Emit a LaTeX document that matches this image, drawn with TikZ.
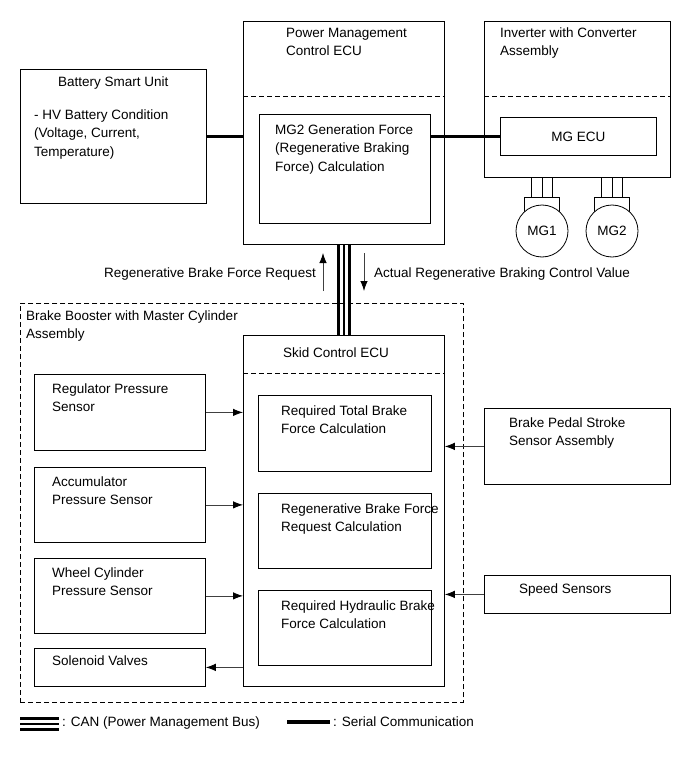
\documentclass[tikz,border=0pt]{standalone}
\usepackage{fontspec}
\setmainfont{Liberation Sans}
\usetikzlibrary{arrows.meta}
\begin{document}
\begin{tikzpicture}[x=1pt,y=-1pt,
  box/.style={draw, line width=0.8pt, inner sep=0pt, anchor=north west},
  txt/.style={anchor=base west, align=left, inner sep=0pt, font=\fontsize{13.5}{18}\selectfont},
  ctxt/.style={inner sep=0pt, font=\fontsize{13.5}{18}\selectfont},
  serial/.style={line width=3.5pt},
  arr/.style={line width=0.8pt, draw=black!75, -{Latex[length=10pt,width=7.5pt,color=black]}},
  dsh/.style={line width=0.8pt, dash pattern=on 5pt off 3pt}]
\useasboundingbox (0,0) rectangle (691,757);
% top boxes
\node[box, minimum width=186pt, minimum height=134pt] (battery) at (20,69) {};
\node[box, minimum width=201pt, minimum height=223pt] (pmc) at (243,21) {};
\node[box, minimum width=171pt, minimum height=109pt] (pmcin) at (259,114) {};
\node[box, minimum width=186pt, minimum height=156pt] (inv) at (484,21) {};
\node[box, minimum width=156pt, minimum height=38pt] (mgecu) at (500,117) {};
\draw[dsh] (243,96) -- (444,96);
\draw[dsh] (484,96) -- (670,96);
% motor connectors
\foreach \cx in {542, 612}{
  \foreach \dx in {-10.5,0,10.5}
    \draw[line width=0.8pt] (\cx+\dx,177) -- (\cx+\dx,197);
  \draw[line width=0.8pt] (\cx-17.5,212) -- (\cx-17.5,197) -- (\cx+17.5,197) -- (\cx+17.5,212);
}
\node[circle, draw, fill=white, line width=0.8pt, minimum size=52pt, inner sep=0pt, font=\fontsize{13.5}{18}\selectfont] (mg1) at (542,231) {MG1};
\node[circle, draw, fill=white, line width=0.8pt, minimum size=52pt, inner sep=0pt, font=\fontsize{13.5}{18}\selectfont] (mg2) at (612,231) {MG2};
% booster
\node[box, dsh, minimum width=443pt, minimum height=399pt] (boost) at (20,303) {};
\node[box, minimum width=201pt, minimum height=351pt] (skid) at (243,335) {};
\draw[dsh] (243,373) -- (444,373);
\node[box, minimum width=173pt, minimum height=76pt] (sk1) at (258,395) {};
\node[box, minimum width=173pt, minimum height=75pt] (sk2) at (258,493) {};
\node[box, minimum width=173pt, minimum height=75pt] (sk3) at (258,590) {};
\node[box, minimum width=171pt, minimum height=76pt] (reg) at (34,374) {};
\node[box, minimum width=171pt, minimum height=75pt] (acc) at (34,467) {};
\node[box, minimum width=171pt, minimum height=75pt] (whc) at (34,558) {};
\node[box, minimum width=171pt, minimum height=38pt] (sol) at (34,648) {};
\node[box, minimum width=186pt, minimum height=76pt] (bps) at (484,408) {};
\node[box, minimum width=186pt, minimum height=38pt] (spd) at (484,575) {};
% serial links
\draw[serial] (battery.east) -- (battery.east -| pmc.west);
\draw[serial] (mgecu.west -| pmcin.east) -- (mgecu.west);
% CAN
\draw[line width=3.5pt] ([xshift=-5.5pt]pmc.south) -- ([xshift=-5.5pt]skid.north);
\draw[line width=1.8pt] (pmc.south) -- (skid.north);
\draw[line width=3.5pt] ([xshift=5.5pt]pmc.south) -- ([xshift=5.5pt]skid.north);
% request arrows
\coordinate (upS) at (323,291);
\coordinate (upE) at (323,253);
\coordinate (dnS) at (364,253);
\coordinate (dnE) at (364,291);
\draw[arr] (upS) -- (upE);
\draw[arr] (dnS) -- (dnE);
% sensor arrows
\draw[arr] (reg.east) -- (reg.east -| skid.west);
\draw[arr] (acc.east) -- (acc.east -| skid.west);
\draw[arr] (whc.east) -- (whc.east -| skid.west);
\draw[arr] (sol.east -| skid.west) -- (sol.east);
\draw[arr] (bps.west) -- (bps.west -| skid.east);
\draw[arr] (spd.west) -- (spd.west -| skid.east);
% texts (multi-line nodes are placed by the baseline of their last line)
\node[txt] (tBat) at (58,87) {Battery Smart Unit};
\node[txt] (tBatB) at (34,156) {- HV Battery Condition\\(Voltage, Current,\\Temperature)};
\node[txt] (tPmc) at (286,56) {Power Management\\Control ECU};
\node[txt] (tMg2) at (275,171) {MG2 Generation Force\\(Regenerative Braking\\Force) Calculation};
\node[txt] (tInv) at (500,56) {Inverter with Converter\\Assembly};
\node[ctxt] (tMgecu) at (mgecu.center) {MG ECU};
\node[txt, anchor=base east] (tReq) at (316,277) {Regenerative Brake Force Request};
\node[txt] (tAct) at (374,277) {Actual Regenerative Braking Control Value};
\node[txt] (tBoost) at (26,338) {Brake Booster with Master Cylinder\\Assembly};
\node[txt] (tSkid) at (283,357) {Skid Control ECU};
\node[txt] (tSk1) at (281,433) {Required Total Brake\\Force Calculation};
\node[txt] (tSk2) at (281,531) {Regenerative Brake Force\\Request Calculation};
\node[txt] (tSk3) at (281,628) {Required Hydraulic Brake\\Force Calculation};
\node[txt] (tReg) at (52,411) {Regulator Pressure\\Sensor};
\node[txt] (tAcc) at (52,504) {Accumulator\\Pressure Sensor};
\node[txt] (tWhc) at (52,595) {Wheel Cylinder\\Pressure Sensor};
\node[txt] (tSol) at (52,665) {Solenoid Valves};
\node[txt] (tBps) at (509,445) {Brake Pedal Stroke\\Sensor Assembly};
\node[txt] (tSpd) at (519,593) {Speed Sensors};
% legend
\coordinate (canL) at (20,724);
\coordinate (canR) at (59,724);
\draw[line width=3pt] ([yshift=5.5pt]canL) -- ([yshift=5.5pt]canR);
\draw[line width=1.8pt] (canL) -- (canR);
\draw[line width=3pt] ([yshift=-5.5pt]canL) -- ([yshift=-5.5pt]canR);
\node[txt] (tCan) at (62,726) {: CAN (Power Management Bus)};
\coordinate (serL) at (287,722);
\coordinate (serR) at (330,722);
\draw[serial] (serL) -- (serR);
\node[txt] (tSer) at (333,726) {: Serial Communication};
\end{tikzpicture}
\end{document}
